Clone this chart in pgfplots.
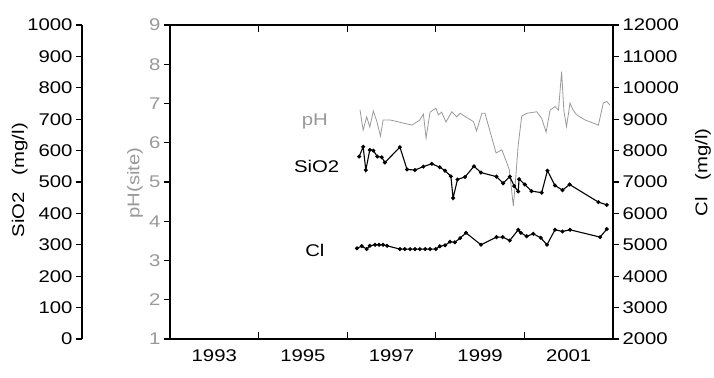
\documentclass[border=0pt]{standalone}
\usepackage{fontspec}
\setmainfont{Liberation Sans}[FakeStretch=1.2]
\usepackage{pgfplots}
\pgfplotsset{compat=1.18}
\definecolor{phgray}{gray}{0.6}

\begin{document}
\begin{tikzpicture}
\path[use as bounding box] (0,0) rectangle (714bp,378bp);
\pgfplotsset{every axis/.append style={
  font=\fontsize{17}{20}\selectfont,
  /pgf/number format/assume math mode=true,
  /pgf/number format/1000 sep={},
  scaled ticks=false,
  scale only axis, width=443bp, height=314bp,
  at={(170bp,39bp)}, anchor=south west,
  xmin=1992, xmax=2002,
  axis line style={line width=1.2bp},
  every tick/.style={line width=1.1bp, black},
  major tick length=6bp,
}}

% box and x axis
\begin{axis}[ymin=0, ymax=1, ytick=\empty,
  xtick={1993,1995,1997,1999,2001},
  xticklabels={1993,1995,1997,1999,2001},
  minor xtick={1994,1996,1998,2000},
  xtick pos=both, tick align=inside,
  major x tick style={draw=none},
  minor x tick style={draw=black, line width=1.1bp},
  minor tick length=7bp,
  xticklabel style={yshift=-7bp},
  ylabel={SiO2\quad(mg/l)},
  ylabel style={at={(axis description cs:-0.339,0.506)}, anchor=center},
]
\end{axis}

% pH axis
\begin{axis}[hide x axis, axis y line*=left,
  ymin=1, ymax=9, ytick={1,2,...,9},
  tick align=outside, ytick pos=left,
  yticklabel style={text=phgray},
  ylabel={pH(site)},
  ylabel style={text=phgray, at={(axis description cs:-0.079,0.497)}, anchor=center},
]
\addplot[phgray, line width=0.8bp] coordinates {
(1996.29,6.83) (1996.36,6.32) (1996.44,6.66) (1996.51,6.40) (1996.59,6.81)
(1996.67,6.54) (1996.75,6.17) (1996.81,6.58) (1996.97,6.58) (1997.12,6.54)
(1997.27,6.50) (1997.46,6.45) (1997.53,6.50) (1997.64,6.58) (1997.72,6.73)
(1997.78,6.12) (1997.87,6.78) (1998.00,6.88) (1998.06,6.71) (1998.13,6.78)
(1998.23,6.53) (1998.36,6.79) (1998.47,6.66) (1998.55,6.75) (1998.70,6.64)
(1998.85,6.54) (1998.92,6.30) (1999.04,6.75) (1999.11,6.75) (1999.36,5.74)
(1999.49,5.82) (1999.58,5.56) (1999.66,5.31) (1999.75,4.39) (1999.79,4.90)
(1999.86,5.94) (1999.94,6.68) (2000.05,6.75) (2000.28,6.79) (2000.39,6.62)
(2000.49,6.27) (2000.58,6.83) (2000.69,6.92) (2000.77,6.83) (2000.84,7.81)
(2000.89,6.83) (2000.95,6.41) (2001.03,7.01) (2001.10,6.83) (2001.18,6.71)
(2001.37,6.58) (2001.67,6.45) (2001.78,7.01) (2001.86,7.05) (2001.93,6.96)
};
\node[text=phgray] at (axis cs:1995.27,6.54) {pH};
\end{axis}

% SiO2 data
\begin{axis}[hide axis, ymin=0, ymax=1000]
\addplot[black, line width=1.1bp, mark=*, mark size=1.4bp] coordinates {
(1996.27,581) (1996.36,612) (1996.42,538) (1996.51,602) (1996.59,600)
(1996.68,581) (1996.78,579) (1996.85,562) (1997.19,611) (1997.35,540)
(1997.53,538) (1997.72,549) (1997.91,558) (1998.09,547) (1998.21,536)
(1998.34,518) (1998.39,449) (1998.49,508) (1998.66,516) (1998.86,550)
(1999.02,530) (1999.37,517) (1999.52,496) (1999.67,517) (1999.77,487)
(1999.86,470) (1999.88,509) (2000.01,492) (2000.16,471) (2000.39,466)
(2000.52,536) (2000.69,489) (2000.86,474) (2001.02,492) (2001.67,436)
(2001.86,427)
};
\node at (axis cs:1995.31,549) {SiO2};
\end{axis}

% SiO2 scale
\begin{axis}[at={(82bp,39bp)}, width=10bp, xmin=0, xmax=1,
  hide x axis, axis y line*=left,
  ymin=0, ymax=1000, ytick={0,100,...,1000},
  tick align=outside, ytick pos=left,
]
\end{axis}

% Cl axis
\begin{axis}[hide x axis, axis y line*=right,
  ymin=2000, ymax=12000, ytick={2000,3000,...,12000},
  tick align=outside, ytick pos=right,
  ylabel={Cl\quad(mg/l)},
  ylabel style={at={(axis description cs:1.203,0.53)}, anchor=center},
]
\addplot[black, line width=1.1bp, mark=*, mark size=1.4bp] coordinates {
(1996.22,4889) (1996.33,4959) (1996.44,4863) (1996.51,4968) (1996.63,5000)
(1996.72,5000) (1996.81,5000) (1996.90,4968) (1997.19,4863) (1997.30,4863)
(1997.42,4863) (1997.53,4863) (1997.64,4863) (1997.76,4863) (1997.87,4863)
(1998.00,4863) (1998.09,4952) (1998.21,4984) (1998.32,5096) (1998.43,5080)
(1998.55,5213) (1998.68,5382) (1999.02,5000) (1999.37,5245) (1999.51,5245)
(1999.67,5137) (1999.86,5478) (1999.92,5382) (2000.05,5271) (2000.20,5350)
(2000.37,5223) (2000.51,5000) (2000.69,5478) (2000.86,5424) (2001.03,5478)
(2001.71,5245) (2001.86,5500)
};
\node at (axis cs:1995.27,4809) {Cl};
\end{axis}
\end{tikzpicture}
\end{document}
